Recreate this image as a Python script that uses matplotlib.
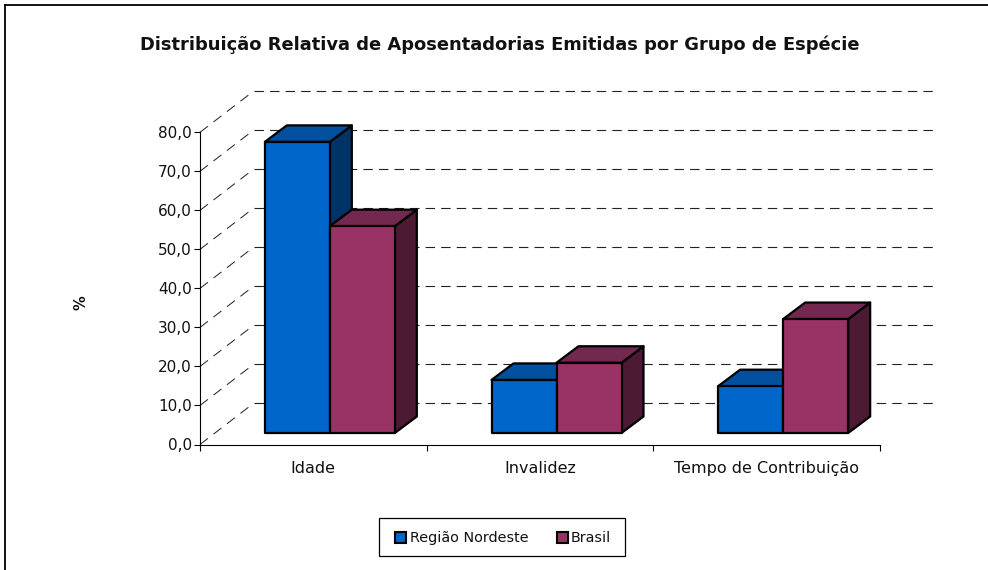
import matplotlib
matplotlib.use("Agg")
import matplotlib.pyplot as plt
from matplotlib.patches import Polygon, Rectangle
from matplotlib.lines import Line2D

categories = ["Idade", "Invalidez", "Tempo de Contribuição"]
regiao_nordeste = [74.6, 13.6, 12.0]
brasil = [53.0, 18.0, 29.2]
series_names = ["Região Nordeste", "Brasil"]
y_ticks = [0, 10, 20, 30, 40, 50, 60, 70, 80]
title = "Distribuição Relativa de Aposentadorias Emitidas por Grupo de Espécie"

W, H = 988, 570
plt.rcParams['font.family'] = ['DejaVu Sans']
fig = plt.figure(figsize=(W/100, H/100), dpi=100, facecolor="white")

# axes region in pixels
L, R, T, B = 200, 880, 132.3, 444.5
ax = fig.add_axes([L/W, 1-B/H, (R-L)/W, (B-T)/H])
ax.set_xlim(0, 3)
ax.set_ylim(0, 80)
ax.patch.set_alpha(0)
for s in ("top", "right"):
    ax.spines[s].set_visible(False)
for s in ("left", "bottom"):
    ax.spines[s].set_linewidth(0.8)
    ax.spines[s].set_color("black")

ux = 3/(R-L)   # data per pixel
uy = 80/(B-T)

# depth of wall and bars, in pixels
wall_dx, wall_dy = 54, 41.5
for v in y_ticks:
    gx = [0, wall_dx*ux]
    gy = [v, v+wall_dy*uy]
    ax.plot(gx, gy, color="#222222", lw=0.72, ls=(0, (10, 7)), clip_on=False, zorder=1)
    ax.plot([wall_dx*ux, 3+wall_dx*ux], [gy[1], gy[1]], color="#222222", lw=0.8,
            ls=(0, (8.5, 5.5)), clip_on=False, zorder=1)

ox, oy = 16.5, 11.5    # front plane of bars from the axis plane
dx, dy = 22, 16.5      # bar depth
bar_w = 65*ux
styles = [("#0066CC", "#00509F", "#003366"), ("#993366", "#732850", "#4D1A33")]

def bar(x0, val, cols, z):
    fx0 = x0 + ox*ux; fx1 = fx0 + bar_w
    y0 = oy*uy; y1 = y0 + val
    ddx, ddy = dx*ux, dy*uy
    kw = dict(ec="black", lw=1.6, joinstyle="round", clip_on=False, zorder=z)
    ax.add_patch(Polygon([(fx1, y0), (fx1+ddx, y0+ddy), (fx1+ddx, y1+ddy), (fx1, y1)], fc=cols[2], **kw))
    ax.add_patch(Polygon([(fx0, y1), (fx0+ddx, y1+ddy), (fx1+ddx, y1+ddy), (fx1, y1)], fc=cols[1], **kw))
    ax.add_patch(Polygon([(fx0, y0), (fx1, y0), (fx1, y1), (fx0, y1)], fc=cols[0], **kw))

for i in range(len(categories)):
    c = i + 0.5
    bar(c - bar_w, regiao_nordeste[i], styles[0], 3)
    bar(c, brasil[i], styles[1], 4)

ax.set_xticks([0, 1, 2, 3])
ax.set_xticklabels([])
ax.tick_params(axis="x", length=4.3, width=0.8, direction="out")
for i, c in enumerate(categories):
    ax.annotate(c, (i+0.5, 0), xytext=(0, -17), textcoords="offset points",
                ha="center", va="center", fontsize=11.5, color="#111111")
ax.set_yticks(y_ticks)
ax.set_yticklabels([f"{v:.1f}".replace(".", ",") for v in y_ticks], fontsize=11, color="#111111")
ax.tick_params(axis="y", length=4.3, width=0.8, direction="out", pad=1.5)

fig.text(500/W, 1-45/H, title, ha="center", va="center", fontsize=12.85, fontweight="bold", color="#111111")
fig.text(81/W, 1-303/H, "%", rotation=90, ha="center", va="center", fontsize=10.5, fontweight="bold", color="#111111")

# outer border: only the left and top edges fall inside the picture
fig.add_artist(Line2D([4.5/W, 4.5/W], [0, 1-4.5/H], transform=fig.transFigure, color="black", lw=1.3))
fig.add_artist(Line2D([4.5/W, 1], [1-4.5/H, 1-4.5/H], transform=fig.transFigure, color="black", lw=1.3))

# legend
fig.add_artist(Rectangle((379/W, 1-556/H), 246/W, 38/H, transform=fig.transFigure, fc="white", ec="black", lw=0.9))
for sx, tx, name, col in [(395, 410, series_names[0], styles[0][0]), (557, 571, series_names[1], styles[1][0])]:
    fig.add_artist(Rectangle((sx/W, 1-542.5/H), 10.5/W, 11/H, transform=fig.transFigure, fc=col, ec="black", lw=1.5))
    fig.text(tx/W, 1-538/H, name, ha="left", va="center", fontsize=10.4, color="#111111")

fig.savefig("out.png", dpi=100)
